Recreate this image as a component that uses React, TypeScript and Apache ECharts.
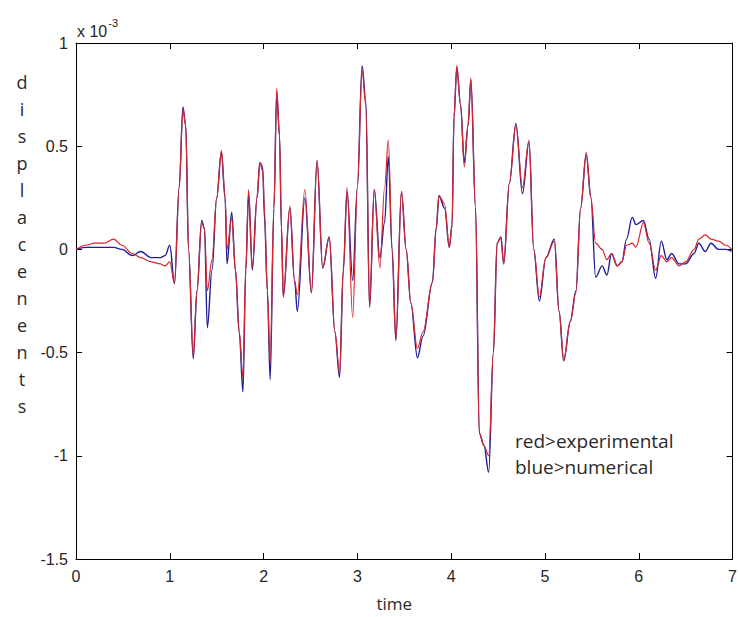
import React, { useEffect, useRef } from "react";
import * as echarts from "echarts";

// time (s)
const time = [
  0, 0.1, 0.2, 0.3, 0.4, 0.49, 0.6, 0.69, 0.8, 0.9,
  0.95, 1.0, 1.05, 1.1, 1.14, 1.17, 1.2, 1.25, 1.29, 1.34,
  1.37, 1.4, 1.45, 1.5, 1.55, 1.59, 1.61, 1.66, 1.7, 1.74,
  1.78, 1.81, 1.84, 1.88, 1.93, 1.96, 1.99, 2.01, 2.04, 2.07,
  2.11, 2.14, 2.17, 2.19, 2.21, 2.28, 2.33, 2.36, 2.44, 2.51,
  2.57, 2.63, 2.7, 2.76, 2.81, 2.85, 2.89, 2.95, 3.0, 3.05,
  3.09, 3.13, 3.18, 3.24, 3.29, 3.33, 3.37, 3.41, 3.47, 3.52,
  3.57, 3.64, 3.7, 3.8, 3.84, 3.87, 3.93, 3.98, 4.01, 4.03,
  4.06, 4.1, 4.14, 4.18, 4.21, 4.26, 4.3, 4.35, 4.4, 4.45,
  4.49, 4.53, 4.56, 4.62, 4.69, 4.76, 4.83, 4.88, 4.94, 5.01,
  5.1, 5.15, 5.2, 5.27, 5.33, 5.38, 5.44, 5.49, 5.54, 5.61,
  5.66, 5.71, 5.77, 5.82, 5.87, 5.93, 5.97, 6.05, 6.11, 6.18,
  6.24, 6.3, 6.35, 6.43, 6.5, 6.59, 6.64, 6.71, 6.77, 6.85,
  6.93, 6.99,
];

// displacement, x 10^-3 (red > experimental)
const experimental = [
  0, 0.02, 0.03, 0.03, 0.05, 0.02, -0.02, -0.04, -0.06, -0.07,
  -0.08, -0.06, -0.165, 0.3, 0.68, 0.6, 0.0, -0.52, -0.2, 0.13,
  0.1, -0.2, -0.05, 0.25, 0.48, 0.25, 0.0, 0.15, -0.1, -0.4,
  -0.62, -0.1, 0.29, -0.09, 0.25, 0.42, 0.38, 0.19, -0.2, -0.55,
  0.2, 0.78, 0.55, 0.125, -0.23, 0.21, -0.15, -0.22, 0.29, -0.21,
  0.43, -0.09, 0.06, -0.4, -0.6, -0.1, 0.3, -0.33, 0.3, 0.87,
  0.7, -0.28, 0.29, -0.09, 0.3, 0.53, 0.0, -0.44, 0.28, 0.0,
  -0.26, -0.48, -0.4, -0.16, 0.1, 0.26, 0.22, 0.01, 0.12, 0.64,
  0.89, 0.7, 0.4, 0.6, 0.83, 0.2, -0.89, -0.95, -1.0, -0.5,
  0.03, 0.06, -0.07, 0.32, 0.6, 0.3, 0.53, 0.0, -0.23, -0.04,
  0.04, -0.3, -0.535, -0.35, -0.21, 0.2, 0.47, 0.25, 0.03, 0.0,
  -0.05, -0.02, -0.08, -0.06, 0.02, 0.03, 0.01, 0.13, 0.03, -0.1,
  -0.03, -0.06, -0.04, -0.08, -0.06, 0.0, 0.05, 0.07, 0.05, 0.04,
  0.02, 0.0,
];

// displacement, x 10^-3 (blue > numerical)
const numerical = [
  0, 0.01, 0.01, 0.01, 0.01, 0.0, -0.03, -0.01, -0.04, -0.04,
  -0.03, 0.02, -0.165, 0.3, 0.69, 0.6, 0.0, -0.53, -0.2, 0.14,
  0.1, -0.38, -0.1, 0.25, 0.47, 0.25, -0.07, 0.18, -0.1, -0.4,
  -0.69, -0.1, 0.27, -0.1, 0.25, 0.42, 0.4, 0.15, -0.2, -0.63,
  0.2, 0.76, 0.55, 0.1, -0.23, 0.2, -0.15, -0.3, 0.25, -0.21,
  0.43, -0.09, 0.06, -0.4, -0.62, -0.1, 0.28, -0.15, 0.3, 0.89,
  0.72, -0.28, 0.29, -0.04, 0.13, 0.45, 0.0, -0.44, 0.28, 0.0,
  -0.26, -0.525, -0.42, -0.16, 0.1, 0.26, 0.2, 0.01, 0.12, 0.64,
  0.88, 0.7, 0.42, 0.6, 0.82, 0.2, -0.89, -0.95, -1.08, -0.5,
  0.03, 0.06, -0.07, 0.32, 0.61, 0.27, 0.52, 0.0, -0.25, -0.04,
  0.05, -0.3, -0.54, -0.35, -0.2, 0.2, 0.46, 0.25, -0.135, -0.08,
  -0.125, -0.02, -0.08, -0.06, 0.05, 0.155, 0.12, 0.14, 0.05, -0.14,
  0.04, -0.05, -0.02, -0.07, -0.07, -0.02, 0.03, -0.01, 0.03, 0.0,
  0.0, -0.01,
];

const yLabelLetters = ["d", "i", "s", "p", "l", "a", "c", "e", "n", "e", "n", "t", "s"];
const annotationLines = ["red>experimental", "blue>numerical"];

export default function App() {
  const ref = useRef<HTMLDivElement>(null);

  useEffect(() => {
    if (!ref.current) return;
    const chart = echarts.init(ref.current, null, { renderer: "svg" });
    const tickFont = {
      fontFamily: "Liberation Sans, Arial, sans-serif",
      fontSize: 16,
      color: "#262626",
    };
    const axisCommon = {
      axisLine: { show: true, onZero: false, lineStyle: { color: "#000", width: 1 } },
      axisTick: { show: true, inside: true, length: 6, lineStyle: { color: "#000", width: 1 } },
      splitLine: { show: false },
    };
    const graphic: any[] = [];
    yLabelLetters.forEach((ch, i) => {
      graphic.push({
        type: "text",
        x: 22,
        y: 82 + i * 27,
        style: {
          text: ch,
          fontFamily: "Open Sans, sans-serif",
          fontSize: 18,
          fill: "#2a2a2a",
          textAlign: "center",
          textVerticalAlign: "middle",
        },
      });
    });
    annotationLines.forEach((line, i) => {
      graphic.push({
        type: "text",
        x: 515,
        y: 441 + i * 26,
        style: {
          text: line,
          fontFamily: "Open Sans, sans-serif",
          fontSize: 19,
          fill: "#2a2a2a",
          textAlign: "left",
          textVerticalAlign: "middle",
        },
      });
    });
    graphic.push({
      type: "text",
      x: 77,
      y: 28,
      style: {
        text: "{a|x 10}{b|-3}",
        textVerticalAlign: "middle",
        rich: {
          a: { fontFamily: "Liberation Sans, Arial, sans-serif", fontSize: 16, fill: "#262626", padding: [6, 0, 0, 0] },
          b: { fontFamily: "Liberation Sans, Arial, sans-serif", fontSize: 11, fill: "#262626", padding: [0, 0, 10, 1] },
        },
      },
    });

    chart.setOption({
      animation: false,
      backgroundColor: "#ffffff",
      grid: { left: 76, right: 7, top: 43, bottom: 55, containLabel: false },
      xAxis: [
        {
          type: "value",
          min: 0,
          max: 7,
          interval: 1,
          position: "bottom",
          ...axisCommon,
          axisLabel: { ...tickFont, margin: 9 },
          name: "time",
          nameLocation: "middle",
          nameGap: 36,
          nameTextStyle: {
            fontFamily: "Open Sans, sans-serif",
            fontSize: 17,
            color: "#2a2a2a",
            padding: [0, 20, 0, 0],
          },
        },
        {
          type: "value",
          min: 0,
          max: 7,
          interval: 1,
          position: "top",
          ...axisCommon,
          axisLabel: { show: false },
        },
      ],
      yAxis: [
        {
          type: "value",
          min: -1.5,
          max: 1,
          interval: 0.5,
          position: "left",
          ...axisCommon,
          axisLabel: { ...tickFont, margin: 8 },
        },
        {
          type: "value",
          min: -1.5,
          max: 1,
          interval: 0.5,
          position: "right",
          ...axisCommon,
          axisLabel: { show: false },
        },
      ],
      graphic,
      series: [
        {
          name: "numerical",
          type: "line",
          data: time.map((t, i) => [t, numerical[i]]),
          showSymbol: false,
          symbol: "none",
          smooth: 0.35,
          smoothMonotone: "x",
          lineStyle: { color: "#1e1e9a", width: 1.4 },
          xAxisIndex: 0,
          yAxisIndex: 0,
          z: 2,
        },
        {
          name: "experimental",
          type: "line",
          data: time.map((t, i) => [t, experimental[i]]),
          showSymbol: false,
          symbol: "none",
          smooth: 0.35,
          smoothMonotone: "x",
          lineStyle: { color: "#d8262e", width: 1.2 },
          xAxisIndex: 0,
          yAxisIndex: 0,
          z: 3,
        },
      ],
    });
    return () => chart.dispose();
  }, []);

  return (
    <div
      ref={ref}
      style={{ position: "fixed", left: 0, top: 0, width: 740, height: 617, background: "#fff" }}
    />
  );
}
